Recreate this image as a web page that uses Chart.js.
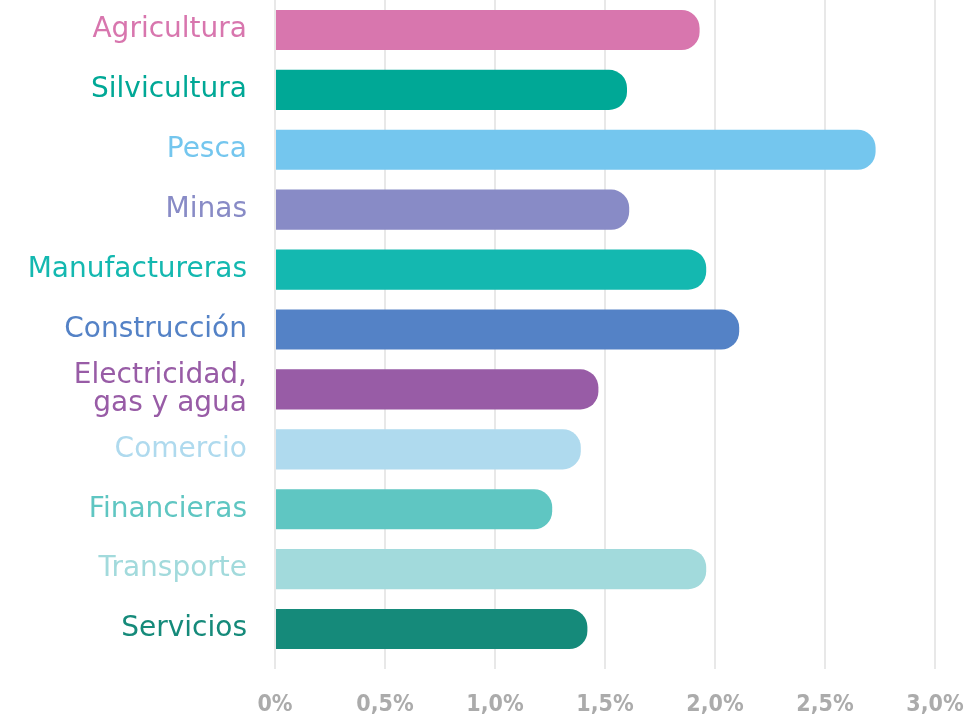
<!DOCTYPE html>
<html>
<head>
<meta charset="utf-8">
<script src="https://cdn.jsdelivr.net/npm/chart.js@4"></script>
<style>
  html, body { margin: 0; padding: 0; background: #fff; }
  #wrap { width: 977px; height: 722px; }
</style>
</head>
<body>
<div id="wrap"><canvas id="chart"></canvas></div>
<script>
const sectores = ['Agricultura', 'Silvicultura', 'Pesca', 'Minas', 'Manufactureras', 'Construcción',
    ['Electricidad,', 'gas y agua'], 'Comercio', 'Financieras', 'Transporte', 'Servicios'];
const valores = [1.93, 1.60, 2.73, 1.61, 1.96, 2.11, 1.47, 1.39, 1.26, 1.96, 1.42];
const colores = ['#d876ae', '#00a896', '#74c6ee', '#888bc6', '#14b8b0', '#5482c6',
    '#985ca6', '#afdaee', '#5fc6c2', '#a2dadc', '#158a7a'];
const ticksX = [0, 0.5, 1, 1.5, 2, 2.5, 3];

const ctx = document.getElementById('chart').getContext('2d');
new Chart(ctx, {
    type: 'bar',
    data: {
        labels: sectores,
        datasets: [{
            data: valores,
            backgroundColor: colores,
            borderRadius: 18,
            borderSkipped: 'start',
            categoryPercentage: 0.67,
            barPercentage: 1
        }]
    },
    options: {
        indexAxis: 'y',
        responsive: true,
        maintainAspectRatio: false,
        animation: false,
        layout: { padding: { left: 0, right: 42, top: 0, bottom: 0 } },
        plugins: {
            legend: { display: false },
            tooltip: { enabled: false }
        },
        scales: {
            x: {
                min: 0,
                max: 3,
                afterBuildTicks: s => { s.ticks = ticksX.map(v => ({ value: v })); },
                afterFit: s => { s.height = 63; s.paddingLeft = 0; s.paddingRight = 0; },
                grid: { color: '#e8e8e8', lineWidth: 2, tickLength: 10, drawTicks: true },
                border: { display: false },
                ticks: {
                    color: '#ababab',
                    padding: 22,
                    maxRotation: 0,
                    font: { family: 'DejaVu Sans Condensed', weight: 'bold', size: 23 },
                    callback: v => (v === 0 ? '0' : v.toFixed(1).replace('.', ',')) + '%'
                }
            },
            y: {
                afterFit: s => { s.width = 275; s.paddingTop = 0; s.paddingBottom = 0; },
                grid: { display: false, tickLength: 0 },
                border: { display: true, color: '#e8e8e8', width: 2 },
                ticks: {
                    autoSkip: false,
                    padding: 28,
                    color: c => colores[c.index],
                    font: { family: 'DejaVu Sans', size: 28, lineHeight: 1.0 }
                }
            }
        }
    }
});
</script>
</body>
</html>
